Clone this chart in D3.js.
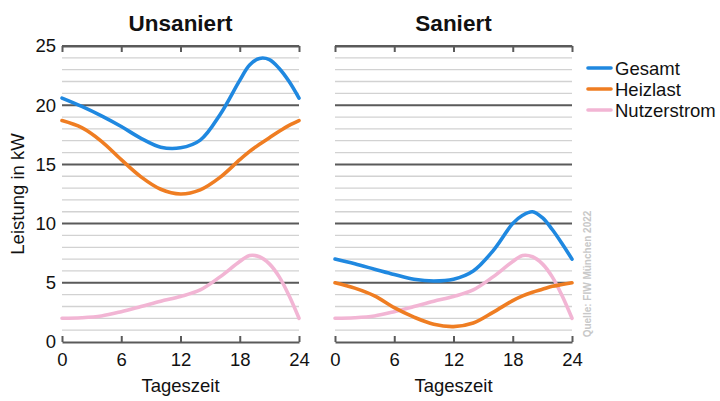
<!DOCTYPE html>
<html><head><meta charset="utf-8">
<script src="https://cdn.jsdelivr.net/npm/d3@7"></script>
<style>body{margin:0;background:#fff}svg{display:block;font-family:"Liberation Sans",Arial,sans-serif}</style>
</head><body><svg id="c" width="720" height="401"></svg>
<script>
const hours = [0,2,4,6,8,10,12,14,16,18,19,20,21,22,23,24];
const unsaniertGesamt   = [20.6,19.9,19.1,18.2,17.2,16.45,16.4,17.05,19.2,22.1,23.4,23.95,23.85,23.1,22.0,20.6];
const unsaniertHeizlast = [18.7,18.1,16.95,15.4,13.95,12.9,12.5,12.85,13.9,15.4,16.1,16.7,17.25,17.8,18.3,18.7];
const nutzerstrom       = [2.0,2.05,2.2,2.56,3.0,3.45,3.85,4.4,5.5,6.8,7.3,7.2,6.6,5.5,3.9,2.0];
const saniertGesamt     = [7.0,6.6,6.15,5.7,5.3,5.15,5.3,6.0,7.7,10.0,10.7,11.0,10.5,9.5,8.3,7.0];
const saniertHeizlast   = [5.0,4.55,3.9,2.9,2.1,1.5,1.3,1.6,2.5,3.5,3.9,4.2,4.45,4.7,4.85,5.0];
const xTicks = [0,6,12,18,24];
const yTicks = [0,5,10,15,20,25];
const panels = [
  {title:"Unsaniert", x0:62, series:[unsaniertGesamt, unsaniertHeizlast, nutzerstrom]},
  {title:"Saniert", x0:335, series:[saniertGesamt, saniertHeizlast, nutzerstrom]}
];
const seriesNames = ["Gesamt","Heizlast","Nutzerstrom"];
const colors = ["#1f88e0","#ef7d22","#f2b5d4"];

const svg = d3.select("#c");
const W = 237, plotTop = 46, plotBottom = 342;
const FS = 18.5;
const y = d3.scaleLinear().domain([0,25]).range([plotBottom, plotTop]);

panels.forEach((p, pi) => {
  const x = d3.scaleLinear().domain([0,24]).range([p.x0, p.x0 + W]);
  const g = svg.append("g");
  g.selectAll("line.minor").data(d3.range(1,25).filter(v => v % 5 !== 0)).join("line")
    .attr("class","minor")
    .attr("x1", p.x0).attr("x2", p.x0 + W).attr("y1", d => y(d)).attr("y2", d => y(d))
    .attr("stroke", "#d2d2d2").attr("stroke-width", 1.3);
  g.selectAll("line.major").data([5,10,15,20,25]).join("line")
    .attr("class","major")
    .attr("x1", p.x0).attr("x2", p.x0 + W).attr("y1", d => y(d)).attr("y2", d => y(d))
    .attr("stroke", "#5a5a5a").attr("stroke-width", 2);
  const ax = d3.axisBottom(x).tickValues(xTicks).tickSizeInner(-6).tickSizeOuter(0).tickPadding(11);
  const axg = svg.append("g").attr("transform", `translate(0,${plotBottom})`).call(ax);
  axg.select(".domain").attr("stroke", "#5a5a5a").attr("stroke-width", 2);
  axg.selectAll(".tick line").attr("stroke", "#5a5a5a").attr("stroke-width", 2);
  axg.selectAll(".tick text").attr("font-size", FS).attr("fill", "#111").attr("font-family", "Liberation Sans, Arial, sans-serif");
  const tx = d3.axisTop(x).tickValues(xTicks).tickSizeInner(-6).tickSizeOuter(0).tickFormat("");
  const txg = svg.append("g").attr("transform", `translate(0,${plotTop})`).call(tx);
  txg.select(".domain").attr("stroke", "#5a5a5a").attr("stroke-width", 2);
  txg.selectAll(".tick line").attr("stroke", "#5a5a5a").attr("stroke-width", 2);
  const line = d3.line().x((d,i) => x(hours[i])).y(d => y(d)).curve(d3.curveCatmullRom.alpha(0.5));
  p.series.slice().reverse().forEach((s, ri) => {
    const si = p.series.length - 1 - ri;
    svg.append("path").attr("d", line(s)).attr("fill", "none")
      .attr("stroke", colors[si]).attr("stroke-width", 3.6).attr("stroke-linecap", "round");
  });
  svg.append("text").attr("x", p.x0 + W/2).attr("y", 31).attr("text-anchor", "middle")
    .attr("font-size", 22.5).attr("font-weight", "bold").attr("fill", "#111").text(p.title);
  svg.append("text").attr("x", p.x0 + W/2).attr("y", 392).attr("text-anchor", "middle")
    .attr("font-size", FS).attr("fill", "#111").text("Tageszeit");
});

const yax = d3.axisLeft(y).tickValues(yTicks).tickSize(0).tickPadding(6);
const yg = svg.append("g").attr("transform", "translate(62,0)").call(yax);
yg.select(".domain").remove();
yg.selectAll(".tick text").attr("font-size", FS).attr("fill", "#111").attr("font-family", "Liberation Sans, Arial, sans-serif");

svg.append("text").attr("transform", "translate(24,194) rotate(-90)").attr("text-anchor", "middle")
  .attr("font-size", FS).attr("fill", "#111").text("Leistung in kW");

const leg = svg.append("g");
seriesNames.forEach((n, i) => {
  const ly = 68 + i * 21;
  leg.append("line").attr("x1", 588).attr("x2", 611).attr("y1", ly).attr("y2", ly)
    .attr("stroke", colors[i]).attr("stroke-width", 3.6).attr("stroke-linecap", "round");
  leg.append("text").attr("x", 615).attr("y", ly + 6.5).attr("font-size", FS).attr("fill", "#111").text(n);
});

svg.append("text").attr("transform", "translate(591,274) rotate(-90)").attr("text-anchor", "middle")
  .attr("font-size", 10).attr("font-weight", "bold").attr("fill", "#c8c8c8").text("Quelle: FIW München 2022");
</script></body></html>
